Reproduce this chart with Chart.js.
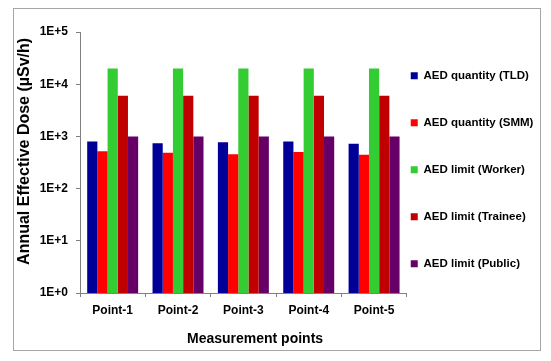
<!DOCTYPE html>
<html>
<head>
<meta charset="utf-8">
<script src="https://cdn.jsdelivr.net/npm/chart.js@4/dist/chart.umd.min.js"></script>
<style>
  html, body { margin: 0; padding: 0; background: #ffffff; }
  #wrap { position: relative; width: 551px; height: 361px; }
  #frame { position: absolute; left: 13px; top: 8px; width: 526px; height: 341px; border: 1px solid #a6a6a6; }
  #c { position: absolute; left: 0; top: 0; }
</style>
</head>
<body>
<div id="wrap">
  <div id="frame"></div>
  <canvas id="c" width="551" height="361"></canvas>
</div>
<script>
// ---- data ----
const categories = ['Point-1', 'Point-2', 'Point-3', 'Point-4', 'Point-5'];
const seriesNames = ['AED quantity (TLD)', 'AED quantity (SMM)', 'AED limit (Worker)', 'AED limit (Trainee)', 'AED limit (Public)'];
const tldValues = [800, 740, 770, 800, 720];
const smmValues = [520, 485, 455, 505, 445];
const workerLimit = [20000, 20000, 20000, 20000, 20000];
const traineeLimit = [6000, 6000, 6000, 6000, 6000];
const publicLimit = [1000, 1000, 1000, 1000, 1000];
const yTickValues = [1, 10, 100, 1000, 10000, 100000];
const yTickLabels = ['1E+0', '1E+1', '1E+2', '1E+3', '1E+4', '1E+5'];
const seriesColors = ['#000099', '#FF0000', '#33CC33', '#C00000', '#660066'];
const yTitle = 'Annual Effective Dose (\u00B5Sv/h)';
const xTitle = 'Measurement points';

const FONT = 'Arial, "Liberation Sans", Helvetica, sans-serif';
Chart.defaults.font.family = FONT;
Chart.defaults.color = '#000000';

const seriesValues = [tldValues, smmValues, workerLimit, traineeLimit, publicLimit];
const datasets = seriesValues.map((vals, i) => ({
  label: seriesNames[i],
  data: vals,
  backgroundColor: seriesColors[i],
  borderWidth: 0,
  categoryPercentage: 0.78,
  barPercentage: 1.0
}));

new Chart(document.getElementById('c'), {
  type: 'bar',
  data: { labels: categories, datasets: datasets },
  options: {
    responsive: false,
    animation: false,
    devicePixelRatio: 1,
    layout: { padding: { left: 13, top: 32, right: 13, bottom: 22 } },
    plugins: {
      tooltip: { enabled: false },
      legend: {
        position: 'right',
        align: 'center',
        labels: {
          boxWidth: 7,
          boxHeight: 7,
          padding: 4,
          color: '#000000',
          font: { size: 11.5, weight: 'bold', lineHeight: '43px' },
          generateLabels: (chart) =>
            Chart.defaults.plugins.legend.labels.generateLabels(chart).map(l => Object.assign({}, l, { text: [l.text], lineWidth: 0 }))
        }
      }
    },
    scales: {
      x: {
        grid: { drawOnChartArea: false, drawTicks: true, tickLength: 4, color: '#808080' },
        border: { color: '#808080', width: 1 },
        ticks: { font: { size: 12, weight: 'bold' }, color: '#000000', padding: 6, maxRotation: 0 },
        title: {
          display: true,
          text: '      ' + xTitle,
          font: { size: 14, weight: 'bold' },
          color: '#000000',
          padding: { top: 0, bottom: -9 }
        },
        afterFit: (s) => { s.height = 46; }
      },
      y: {
        type: 'logarithmic',
        min: 1,
        max: 100000,
        grid: { drawOnChartArea: false, drawTicks: true, tickLength: 4, color: '#808080' },
        border: { color: '#808080', width: 1 },
        ticks: {
          font: { size: 12, weight: 'bold' },
          color: '#000000',
          padding: 8,
          callback: (v) => {
            const idx = yTickValues.indexOf(v);
            return idx >= 0 ? yTickLabels[idx] : '';
          }
        },
        afterBuildTicks: (s) => { s.ticks = yTickValues.map(v => ({ value: v })); },
        title: {
          display: true,
          text: '     ' + yTitle,
          font: { size: 16, weight: 'bold' },
          color: '#000000',
          padding: { top: 2, bottom: 0 }
        },
        afterFit: (s) => { s.width = 67; }
      }
    }
  }
});
</script>
</body>
</html>
